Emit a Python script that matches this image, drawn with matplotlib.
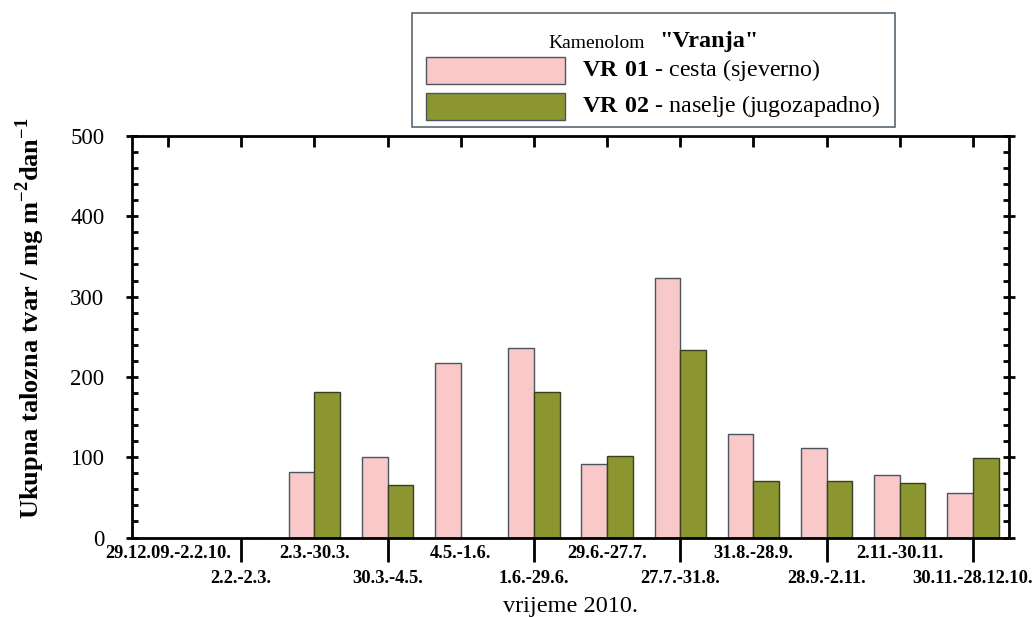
import numpy as np
import matplotlib
matplotlib.use('Agg')
import matplotlib.pyplot as plt
from matplotlib.patches import Rectangle
from matplotlib.ticker import MultipleLocator, FixedLocator

plt.rcParams['font.family'] = 'Liberation Serif'
plt.rcParams['mathtext.fontset'] = 'custom'
plt.rcParams['mathtext.rm'] = 'Liberation Serif'
plt.rcParams['mathtext.bf'] = 'Liberation Serif:bold'

# periods of sampling (2010)
periods = ['29.12.09.-2.2.10.', '2.2.-2.3.', '2.3.-30.3.', '30.3.-4.5.', '4.5.-1.6.',
           '1.6.-29.6.', '29.6.-27.7.', '27.7.-31.8.', '31.8.-28.9.', '28.9.-2.11.',
           '2.11.-30.11.', '30.11.-28.12.10.']

# total deposited matter, mg m-2 dan-1 (0 = no measurement)
vr01 = [0, 0, 82, 100, 217, 236, 91, 323, 129, 112, 78, 55]
vr02 = [0, 0, 181, 65, 0, 181, 102, 233, 70, 71, 68, 99]

pink = '#f9c8c8'
olive = '#8c9630'
edge = '#4a5560'

fig = plt.figure(figsize=(10.34, 6.17), dpi=100)
ax = fig.add_axes([0.1272, 0.1288, 0.8491, 0.6508])

x = np.arange(len(periods))
w = 0.35
ax.bar(x - w / 2, vr01, width=w, color=pink, edgecolor=edge, linewidth=1)
ax.bar(x + w / 2, vr02, width=w, color=olive, edgecolor='#3a3f20', linewidth=1)

ax.set_xlim(-0.5, 11.5)
ax.set_ylim(0, 500)

for s in ax.spines.values():
    s.set_linewidth(2)

# y axis ticks
ax.yaxis.set_major_locator(MultipleLocator(100))
ax.yaxis.set_minor_locator(MultipleLocator(20))
ax.tick_params(axis='y', which='major', direction='inout', length=9, width=2,
               left=True, right=True, labelsize=16.5, pad=15)
ax.tick_params(axis='y', which='minor', direction='in', length=4.5, width=2,
               left=True, right=True)

# x axis: inward ticks on top at every period, long outward ticks below at every second
ax.xaxis.remove_overlapping_locs = False
ax.xaxis.set_major_locator(FixedLocator(x))
ax.xaxis.set_minor_locator(FixedLocator(x[1::2]))
ax.tick_params(axis='x', which='major', direction='in', length=8, width=2,
               top=True, bottom=False, labelbottom=False)
ax.tick_params(axis='x', which='minor', direction='out', length=17, width=2,
               top=False, bottom=True, labelbottom=False)

tr = ax.get_xaxis_transform()
for i, lab in enumerate(periods):
    yy = -0.039 if i % 2 == 0 else -0.103
    ax.text(i, yy, lab, transform=tr, ha='center', va='center',
            fontsize=13.3, fontweight='bold')

ax.text(0.5, -0.173, 'vrijeme 2010.', transform=ax.transAxes, ha='center',
        va='center', fontsize=17.5)

fig.text(30 / 1034, 1 - 318 / 617,
         r'Ukupna talozna tvar / mg m$^{\mathbf{-2}}$dan$^{\mathbf{-1}}$',
         rotation=90, ha='center', va='center', fontsize=19, fontweight='bold')

# legend box
W, H = 1034, 617
def fx(px):
    return px / W
def fy(py):
    return 1 - py / H

fig.add_artist(Rectangle((fx(412), fy(127)), fx(895) - fx(412), fy(13) - fy(127),
                         transform=fig.transFigure, facecolor='white',
                         edgecolor='#5a6670', linewidth=1.2))
fig.text(fx(548), fy(44), 'Kamenolom', ha='left', va='center', fontsize=14)
fig.text(fx(659), fy(42), '"Vranja"', ha='left', va='center', fontsize=17.5,
         fontweight='bold')
fig.add_artist(Rectangle((fx(426), fy(84)), fx(565) - fx(426), fy(57) - fy(84),
                         transform=fig.transFigure, facecolor=pink,
                         edgecolor=edge, linewidth=1))
fig.add_artist(Rectangle((fx(426), fy(120)), fx(565) - fx(426), fy(93) - fy(120),
                         transform=fig.transFigure, facecolor=olive,
                         edgecolor=edge, linewidth=1))
fig.text(fx(582), fy(70), r'$\mathbf{VR\ 01}$ - cesta (sjeverno)', ha='left',
         va='center', fontsize=17.3)
fig.text(fx(582), fy(106), r'$\mathbf{VR\ 02}$ - naselje (jugozapadno)', ha='left',
         va='center', fontsize=17.3)

fig.savefig('out.png', dpi=100)
